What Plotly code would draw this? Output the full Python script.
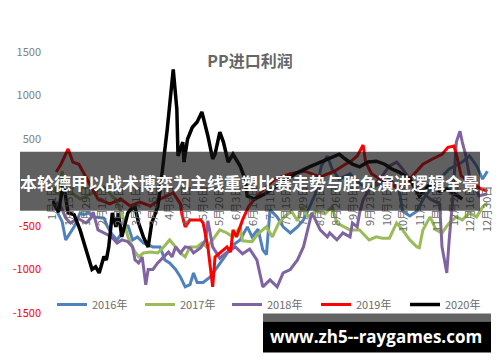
import plotly.graph_objects as go

# ---------------- data ----------------
tick_days = [0, 14, 28, 42, 56, 70, 84, 98, 112, 126, 140, 154, 168, 182,
             196, 210, 224, 238, 252, 266, 280, 294, 308, 322, 336, 350, 364]
tick_labels = ["1月1日", "1月15日", "1月29日", "2月12日", "2月26日", "3月11日",
               "3月25日", "4月8日", "4月22日", "5月6日", "5月20日", "6月3日",
               "6月17日", "7月1日", "7月15日", "7月29日", "8月12日", "8月26日",
               "9月9日", "9月23日", "10月7日", "10月21日", "11月4日", "11月18日",
               "12月2日", "12月16日", "12月30日"]

y_ticks = [1500, 1000, 500, -500, -1000, -1500]
y_tick_labels = ["1500", "1000", "500", "-500", "-1000", "-1500"]

days_2016 = [4, 8, 11, 15, 18, 23, 26, 30, 34, 43, 46, 50, 54, 58, 63, 67, 71, 76, 84, 90,
             94, 98, 103, 107, 111, 115, 118, 121, 126, 132, 138, 142, 146, 151, 157, 163,
             167, 172, 176, 179, 182, 188, 193, 199, 205, 210, 214, 220, 225, 230, 234, 240,
             249, 257, 265, 274, 282, 290, 293, 299, 305, 310, 316, 324, 332, 343, 349, 355,
             360, 364]
vals_2016 = [-340, -450, -660, -580, -510, -350, -370, -350, -395, -410, -510, -600, -660,
             -580, -490, -660, -625, -695, -740, -740, -890, -925, -1000, -1085, -1200, -1175,
             -1040, -1150, -1150, -1085, -970, -890, -810, -720, -660, -510, -625, -535, -775,
             -830, -315, -395, -510, -580, -510, -430, -315, -130, 190, 305, 155, 40, 100, -15,
             -75, -15, 40, -75, -330, -385, -330, -200, -75, 40, 155, 235, 305, 190, 40, 130]

days_2017 = [0, 5, 8, 11, 17, 23, 32, 40, 43, 48, 53, 57, 59, 63, 68, 72, 76, 82, 88, 93,
             98, 103, 107, 111, 115, 121, 125, 129, 134, 140, 146, 151, 157, 159, 167, 172,
             179, 184, 189, 194, 200, 205, 209, 214, 220, 228, 234, 238, 249, 257, 265, 271,
             276, 282, 288, 293, 299, 305, 307, 310, 316, 321, 326, 332, 338, 343, 349, 355,
             360, 364]
vals_2017 = [-75, -130, 130, -75, -130, -190, -130, -75, -50, -130, -200, -330, -395, -625,
             -775, -855, -810, -800, -810, -740, -660, -740, -810, -855, -740, -740, -695,
             -740, -660, -545, -580, -625, -510, -670, -680, -590, -510, -625, -475, -395,
             -330, -440, -280, -395, -330, -360, -280, -465, -545, -545, -660, -625, -640,
             -640, -465, -545, -660, -740, -750, -545, -395, -545, -580, -465, -395, -430,
             -350, -395, -280, -235]

days_2018 = [3, 7, 11, 15, 21, 28, 32, 34, 38, 42, 46, 50, 54, 58, 63, 67, 69, 72, 75, 78,
             80, 84, 88, 93, 97, 100, 103, 107, 111, 115, 118, 124, 128, 130, 134, 140, 146,
             153, 159, 165, 171, 176, 182, 188, 193, 199, 205, 210, 214, 217, 220, 224, 230,
             232, 238, 243, 249, 251, 255, 257, 260, 265, 274, 282, 288, 293, 299, 307, 316,
             324, 326, 330, 332, 335, 338, 341, 343, 346, 349, 357, 364]
vals_2018 = [-225, -280, -410, -465, -410, -465, -410, -340, -545, -570, -600, -635, -695,
             -660, -680, -740, -890, -925, -855, -1175, -1000, -1000, -925, -855, -800, -855,
             -740, -810, -740, -750, -810, -750, -660, -440, -740, -870, -800, -740, -820,
             -765, -890, -1200, -1120, -1200, -1040, -1000, -890, -740, -510, -350, -430,
             -545, -625, -580, -660, -580, -625, -465, -510, -350, -200, -75, 40, 190, 235,
             155, 40, -75, -190, -245, -740, -1040, -660, -190, 465, 590, 465, 305, 75, -155,
             -130]

days_2019 = [3, 7, 13, 17, 22, 28, 38, 48, 57, 65, 73, 82, 90, 101, 107, 108, 111, 115, 124,
             126, 130, 134, 136, 140, 146, 149, 151, 154, 159, 164, 169, 175, 186, 199, 211,
             224, 236, 245, 249, 255, 260, 262, 267, 274, 282, 290, 299, 306, 310, 318, 326,
             331, 336, 339, 342, 349, 359, 364]
vals_2019 = [120, 210, 385, 235, 210, 65, -190, -245, -190, -270, -225, -270, -190, -120,
             -245, -350, -510, -430, -430, -465, -740, -1200, -855, -810, -740, -800, -545,
             -625, -430, -280, -190, -100, 40, 100, 130, 65, 130, 210, 235, 305, 430, 235, 100,
             40, -15, -75, 40, 155, 210, 270, 325, 405, 420, 270, 75, 5, -75, -100]

days_2020 = [0, 5, 9, 13, 18, 23, 33, 36, 39, 43, 45, 47, 50, 53, 55, 58, 63, 65, 69, 72,
             76, 80, 83, 88, 90, 93, 96, 101, 104, 105, 109, 110, 113, 117, 121, 125, 130,
             134, 136, 140, 143, 147, 151, 157, 161, 163, 169, 178, 190, 203, 215, 224, 235,
             240, 245, 251, 257, 264, 271, 278, 284, 290, 299, 307, 316, 324, 330, 336, 343]
vals_2020 = [-210, -340, 0, -350, -370, -545, -1000, -970, -1040, -850, -890, -740, -350,
             -510, -350, -625, -350, -315, -280, -465, -625, -740, -465, -280, -85, 235, 615,
             1300, 845, 305, 465, 235, 500, 635, 695, 810, 535, 270, 325, 580, 465, 235, 325,
             190, 40, -155, -190, -130, -15, 100, 180, 235, 305, 325, 270, 210, 180, 235, 245,
             210, 155, 120, 40, -155, -15, -100, -75, -130, -190]

series = [
    ("2016年", days_2016, vals_2016, "#4F81BD", 3),
    ("2017年", days_2017, vals_2017, "#9BBB59", 3),
    ("2018年", days_2018, vals_2018, "#8064A2", 3),
    ("2019年", days_2019, vals_2019, "#FF0000", 3),
    ("2020年", days_2020, vals_2020, "#000000", 3.5),
]

title_text = "PP进口利润"
banner_text = "本轮德甲以战术博弈为主线重塑比赛走势与胜负演进逻辑全景"
watermark_text = "www.zh5--raygames.com"

# ---------------- figure ----------------
FONT = "Noto Sans CJK SC, Noto Sans, sans-serif"
W, H = 500, 362
L, R, T, B = 52, 0, 52, 48.5
PW, PH = W - L - R, H - T - B
DAY_PX = 436 / 365.0
X_MAX = 364.5 + (PW - 436) / DAY_PX
LEGEND_LINE_X = [58, 146, 233, 322, 411]


def px(x):
    return (x - L) / PW


def py(y):
    return (H - B - y) / PH


fig = go.Figure()
legend_layout = {}
for i, (name, d, v, c, w) in enumerate(series):
    key = "legend" if i == 0 else f"legend{i + 1}"
    fig.add_trace(go.Scatter(x=d, y=v, mode="lines", name=name, legend=key,
                             line=dict(color=c, width=w)))
    legend_layout[key] = dict(orientation="h", x=px(LEGEND_LINE_X[i] - 6), xanchor="left",
                              y=py(305), yanchor="middle", bgcolor="rgba(0,0,0,0)",
                              itemwidth=30, font=dict(size=11, color="#6b6b6b"))

y_text = []
for val, lab in zip(y_ticks, y_tick_labels):
    col = "#FF0000" if val < 0 else "#808080"
    y_text.append(f'<span style="color:{col}">{lab}</span>')

fig.update_layout(
    width=W, height=H,
    margin=dict(l=L, r=R, t=T, b=B),
    paper_bgcolor="white", plot_bgcolor="white",
    font=dict(family=FONT, size=11, color="#595959"),
    title=dict(text=f"<b>{title_text}</b>", x=0.5, xanchor="center",
               y=1 - 61 / H, yanchor="middle",
               font=dict(family=FONT, size=16, color="#666666")),
    xaxis=dict(range=[-0.5, X_MAX], tickmode="array", tickvals=tick_days,
               ticktext=tick_labels, tickangle=-90, anchor="free", position=0.5,
               showgrid=False, zeroline=False, showline=False,
               ticks="", tickfont=dict(size=11, color="#6b6b6b"), fixedrange=True),
    yaxis=dict(range=[-1500, 1500], tickmode="array", tickvals=y_ticks,
               ticktext=y_text, showgrid=False, zeroline=False, showline=False,
               ticks="", ticklabelstandoff=10,
               tickfont=dict(size=11, color="#808080")),
    showlegend=True,
    **legend_layout,
)

shapes = [
    dict(type="rect", xref="paper", yref="paper", x0=px(20), x1=px(480),
         y0=py(211), y1=py(152), fillcolor="rgba(20,20,20,0.68)", line=dict(width=0),
         layer="above"),
    dict(type="rect", xref="paper", yref="paper", x0=px(263), x1=px(491),
         y0=py(322), y1=py(314), fillcolor="#646464", line=dict(width=0), layer="above"),
    dict(type="rect", xref="paper", yref="paper", x0=px(263), x1=px(491),
         y0=py(353), y1=py(322), fillcolor="#000000", line=dict(width=0), layer="above"),
]
fig.update_layout(shapes=shapes)

fig.add_annotation(xref="paper", yref="paper", x=px(249), y=py(183), text=f"<b>{banner_text}</b>",
                   showarrow=False, xanchor="center", yanchor="middle",
                   font=dict(family=FONT, size=17, color="white"))
fig.add_annotation(xref="paper", yref="paper", x=px(376), y=py(337), text=f"<b>{watermark_text}</b>",
                   showarrow=False, xanchor="center", yanchor="middle",
                   font=dict(family="Open Sans, Noto Sans, sans-serif", size=17, color="white"))

fig.write_html("out.html")
